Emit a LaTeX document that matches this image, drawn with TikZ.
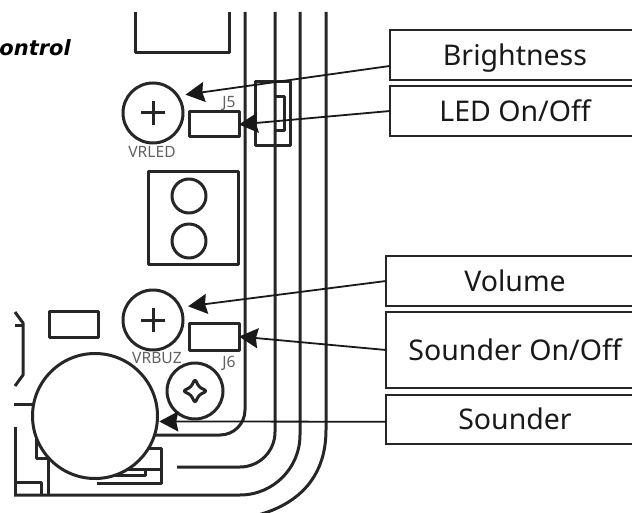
\documentclass[tikz,border=0pt]{standalone}
\usepackage{fontspec}
\setmainfont{Noto Sans}
\newfontfamily\headingfont{DejaVu Sans}
\usetikzlibrary{arrows.meta}

\tikzset{
  pcb/.style={line width=3pt, line join=round, black!85},
  part/.style={pcb, draw, inner sep=0pt, outer sep=0pt},
  silk/.style={text=black!62, font=\fontsize{15.6}{15.6}\selectfont, inner sep=0pt},
  labelbox/.style={draw, line width=2pt, black!85, text=black!90, inner sep=0pt, outer sep=0pt,
    font=\fontsize{28.5}{28.5}\selectfont, text height=20.4pt, text depth=0pt, minimum height=50pt},
  pointer/.style={line width=1.8pt, black!90, -{Stealth[length=19pt,width=20pt,inset=2pt]}}
}

\begin{document}
\begin{tikzpicture}[x=1pt,y=-1pt]

\useasboundingbox (0,0) rectangle (632,513);
\clip (0,0) rectangle (632,513);

\def\plusmark#1{(#1) +(-12,0) -- +(12,0) (#1) +(0,-12) -- +(0,12)}

% board outline and traces
\draw[pcb] (135,12) |- (229,53) -- (229,12);
\draw[pcb, rounded corners=25pt] (245,12) |- (150,435);
\draw[pcb, rounded corners=35pt] (275,12) |- (177,467);
\draw[pcb, rounded corners=60pt] (300,12) |- (14,495);
\draw[pcb] (326,12) -- (326,430) .. controls (326,480) and (295,505) .. (258,515);

% parts at the top
\draw[pcb] (255,82) rectangle (290,146);
\draw[pcb] (275,97) -- (284,97) -- (284,131) -- (275,131);
\draw[pcb] (148,172) rectangle (238,265);
\draw[pcb] (189,196) circle (17);
\draw[pcb] (189,241) circle (17);

% parts under the sounder
\draw[pcb] (49,311) rectangle (98,337);
\draw[pcb] (15,312) -- (23,323) -- (23,375) -- (15,386);
\draw[pcb] (15,325) -- (23,325);
\draw[pcb] (14,404) -- (40,404);
\draw[pcb] (15,427) -- (15,495);
\draw[pcb] (36,430) |- (60,458);
\draw[pcb] (48,458) -- (48,495);
\draw[pcb] (14,482) -| (41,495);
\draw[pcb] (140,448) -| (161,483) -- (97,483);
\draw[pcb] (161,469) -- (120,469);
\draw[pcb] (145,469) -- (145,475) -- (100,475);

% screw
\draw[pcb] (195,391) circle (28);
\draw[pcb, rounded corners=2.5pt] (195,379) -- (199,387) -- (207,391) -- (199,395) -- (195,403)
  -- (191,395) -- (183,391) -- (191,387) -- cycle;

% pots, jumpers, sounder
\node[part, circle, minimum size=60pt] (vrled) at (153,113) {};
\node[part, circle, minimum size=60pt] (vrbuz) at (153,320) {};
\draw[pcb] \plusmark{153,113};
\draw[pcb] \plusmark{153,320};
\node[part, minimum width=50pt, minimum height=25pt] (jfive) at (214,124.5) {};
\node[part, minimum width=50pt, minimum height=27pt] (jsix) at (214,336.5) {};
\node[part, circle, fill=white, minimum size=125pt] (sounderdisc) at (95,416) {};

\node[silk] (vrledtext) at (152,152) {VRLED};
\node[silk] (vrbuztext) at (157,358) {VRBUZ};
\node[silk] (jfivetext) at (229,103) {J5};
\node[silk] (jsixtext) at (229,363) {J6};

\node[anchor=base east, inner sep=0pt, font=\fontsize{21}{21}\selectfont\headingfont\bfseries\itshape] (heading) at (71,56) {ontrol};

% label boxes run off the right edge
\node[labelbox, minimum width=250pt] (brightness) at (515,55) {Brightness};
\node[labelbox, minimum width=250pt] (ledonoff) at (515,111) {LED On/Off};
\node[labelbox, minimum width=258pt] (volume) at (515,281) {Volume};
\node[labelbox, minimum width=258pt, minimum height=76pt] (sounderonoff) at (515,350) {Sounder On/Off};
\node[labelbox, minimum width=258pt, minimum height=49pt] (sounderbox) at (515,419.5) {Sounder};

\draw[pointer, shorten >=8pt] (brightness.185) -- (vrled.35);
\draw[pointer] (ledonoff.west) -- (jfive.east);
\draw[pointer, shorten >=8pt] (volume.west) -- (vrbuz.25);
\draw[pointer] (sounderonoff.west) -- (jsix.east);
\draw[pointer, shorten >=2pt] (sounderbox.181) -- (sounderdisc.-5);

\end{tikzpicture}
\end{document}
